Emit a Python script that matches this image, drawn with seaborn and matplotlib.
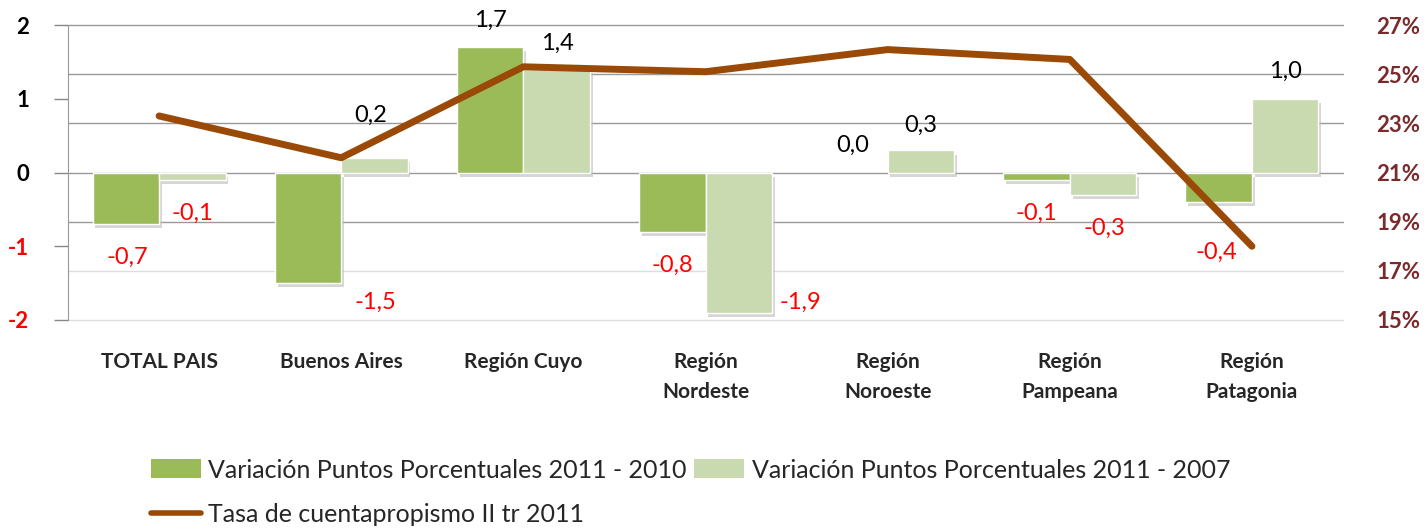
import numpy as np
import pandas as pd
import matplotlib
matplotlib.use("Agg")
import matplotlib.pyplot as plt
import matplotlib.patheffects as pe
from matplotlib.patches import Patch
from matplotlib.lines import Line2D
import seaborn as sns

# data
regions = ["TOTAL PAIS", "Buenos Aires", "Región Cuyo", "Región\nNordeste",
           "Región\nNoroeste", "Región\nPampeana", "Región\nPatagonia"]
var_2010 = [-0.7, -1.5, 1.7, -0.8, 0.0, -0.1, -0.4]
var_2007 = [-0.1, 0.2, 1.4, -1.9, 0.3, -0.3, 1.0]
tasa = [23.3, 21.6, 25.3, 25.1, 26.0, 25.6, 18.0]

serie_a = "Variación Puntos Porcentuales 2011 - 2010"
serie_b = "Variación Puntos Porcentuales 2011 - 2007"
serie_line = "Tasa de cuentapropismo II tr 2011"

left_ticks = [2, 1, 0, -1, -2]
right_ticks = [15, 17, 19, 21, 23, 25, 27]

# manual nudges of the value labels (pixels: dx, dy up), as placed in the original
nudge_a = [(1, -33), (67, -19), (0, 27), (0, -34), (-2, 27), (0, -33), (-2, -50)]
nudge_b = [(0, -33), (-4, 42), (1, 26), (62, 10), (0, 25), (1, -34), (0, 27)]

C_DARK = "#9bbb59"
C_LIGHT = "#c9d9b0"
C_LINE = "#9a4a06"
C_RIGHT = "#7a2a2a"

df = pd.DataFrame({
    "region": regions * 2,
    "valor": var_2010 + var_2007,
    "serie": [serie_a] * len(regions) + [serie_b] * len(regions),
})

sns.set_style("white")
plt.rcParams["font.family"] = ["Lato", "DejaVu Sans"]

fig = plt.figure(figsize=(14.26, 5.31), dpi=100)
ax = fig.add_axes([68 / 1426, 1 - 320 / 531, (1343 - 68) / 1426, 295 / 531])

sns.barplot(data=df, x="region", y="valor", hue="serie", order=regions,
            hue_order=[serie_a, serie_b], palette=[C_DARK, C_LIGHT],
            width=0.73, gap=0, saturation=1, edgecolor="white", linewidth=1,
            legend=False, ax=ax, zorder=2)

shadow = [pe.SimplePatchShadow(offset=(2, -3), shadow_rgbFace="#bbbbbb", alpha=0.6), pe.Normal()]
for p in ax.patches:
    if p.get_height() == 0:
        p.set_visible(False)
    else:
        p.set_path_effects(shadow)

ax.set_ylim(-2, 2)
ax.set_xlim(-0.5, len(regions) - 0.5)
ax.set_yticks(left_ticks)
ax.set_yticklabels([str(t) for t in left_ticks], fontsize=16, fontweight="bold")
for lab, t in zip(ax.get_yticklabels(), left_ticks):
    lab.set_color("red" if t < 0 else "black")
ax.tick_params(axis="y", length=10, width=1, color="#888888", pad=18, left=True)
ax.tick_params(axis="x", length=0, pad=23)
for lab in ax.get_xticklabels():
    lab.set_fontsize(15)
    lab.set_fontweight("bold")
    lab.set_linespacing(1.6)
ax.set_xlabel("")
ax.set_ylabel("")
for s in ["top", "right", "bottom"]:
    ax.spines[s].set_visible(False)
ax.spines["left"].set_color("#999999")

# value labels
containers = ax.containers
for cont, vals, nudges in [(containers[0], var_2010, nudge_a), (containers[1], var_2007, nudge_b)]:
    for bar, v, (dx, dy) in zip(cont, vals, nudges):
        xc = bar.get_x() + bar.get_width() / 2
        ax.annotate(f"{v:.1f}".replace(".", ","), (xc, v), xytext=(dx, dy),
                    textcoords="offset pixels", ha="center", va="center",
                    fontsize=17, color="red" if v < 0 else "black", zorder=5)

# secondary axis with the rate line
ax2 = ax.twinx()
sns.lineplot(x=np.arange(len(regions)), y=tasa, color=C_LINE, linewidth=5,
             solid_capstyle="round", ax=ax2, zorder=4)
ax2.set_ylim(15, 27)
ax2.set_yticks(right_ticks)
ax2.set_yticklabels([f"{t}%" for t in right_ticks], fontsize=16,
                    fontweight="bold", color=C_RIGHT)
ax2.tick_params(axis="y", length=0, pad=24)
for s in ["top", "right", "bottom", "left"]:
    ax2.spines[s].set_visible(False)
for t in right_ticks:
    ax.axhline((t - 21) / 3, color="#dddddd" if t <= 17 else "#999999",
               linewidth=1, zorder=0, clip_on=False)

handles = [Patch(facecolor=C_DARK, edgecolor="none"),
           Line2D([], [], color=C_LINE, linewidth=4),
           Patch(facecolor=C_LIGHT, edgecolor="none")]
labels = [serie_a, serie_line, serie_b]
fig.legend(handles, labels, loc="upper left", bbox_to_anchor=(138 / 1426, 1 - 446 / 531),
           ncol=2, frameon=False, fontsize=18, handlelength=2.0, handleheight=0.8,
           handletextpad=0.3, columnspacing=0.3, labelspacing=0.85, borderpad=0)

fig.savefig("out.png", dpi=100)
